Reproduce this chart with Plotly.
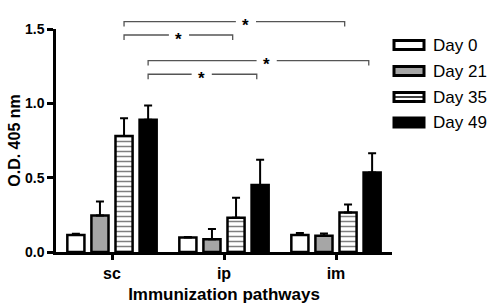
import plotly.graph_objects as go

categories = ["sc", "ip", "im"]
days = ["Day 0", "Day 21", "Day 35", "Day 49"]
day0 = [0.115, 0.097, 0.115]
day0_err = [0.008, 0.004, 0.012]
day21 = [0.245, 0.085, 0.11]
day21_err = [0.095, 0.07, 0.014]
day35 = [0.78, 0.23, 0.265]
day35_err = [0.12, 0.135, 0.055]
day49 = [0.89, 0.45, 0.535]
day49_err = [0.095, 0.17, 0.13]
yticks = [0.0, 0.5, 1.0, 1.5]

# significance brackets: (left category, right category, bar slot, paper y, star x)
brackets = [(0, 2, 2, 1.033, 1.196), (0, 1, 2, 0.973, 0.598),
            (0, 2, 3, 0.858, 1.381), (0, 1, 3, 0.797, 0.801)]

FONT = "Liberation Sans, Arial, sans-serif"
series = [day0, day21, day35, day49]
errs = [day0_err, day21_err, day35_err, day49_err]
fills = ["white", "#a6a6a6", "white", "black"]

fig = go.Figure()
for i, (name, vals, er, fc) in enumerate(zip(days, series, errs, fills)):
    marker = dict(color=fc, line=dict(color="black", width=2.5))
    if i == 2:
        marker["pattern"] = dict(shape="-", fgcolor="black", bgcolor="white", size=5, solidity=0.3)
    fig.add_trace(go.Bar(
        x=categories, y=vals, name=name, marker=marker, showlegend=False,
        error_y=dict(type="data", array=er, arrayminus=[0] * len(er), symmetric=False,
                     color="black", thickness=2, width=4),
    ))

bargap = 0.14
bargroupgap = 0.29
slot = (1 - bargap) / 4
offsets = [-(1 - bargap) / 2 + slot * (k + 0.5) for k in range(4)]

shapes = []
annotations = []
tick = 0.022
for (a, b, s, py, sx) in brackets:
    x0 = a + offsets[s]
    x1 = b + offsets[s] - 0.03
    gap = 0.09
    line = dict(color="#555555", width=1.3)
    shapes.append(dict(type="path", xref="x", yref="paper",
                       path=f"M {x0},{py - tick} L {x0},{py} L {sx - gap},{py}", line=line))
    shapes.append(dict(type="path", xref="x", yref="paper",
                       path=f"M {sx + gap},{py} L {x1},{py} L {x1},{py - tick}", line=line))
    annotations.append(dict(x=sx, y=py, xref="x", yref="paper", text="<b>*</b>", showarrow=False,
                            xanchor="center", yanchor="middle",
                            font=dict(family=FONT, size=17, color="black"), yshift=-4))

# manual legend
def px2paper(px, py):
    return (px - 56) / 336, (252 - py) / 223

legend_rows = [45, 71, 97, 122.5]
for name, fc, ry, k in zip(days, fills, legend_rows, range(4)):
    x0, y0 = px2paper(394, ry - 4.5)
    x1, y1 = px2paper(424, ry + 4.5)
    shapes.append(dict(type="rect", xref="paper", yref="paper", x0=x0, x1=x1, y0=y1, y1=y0,
                       fillcolor=fc, line=dict(color="black", width=3)))
    if k == 2:
        shapes.append(dict(type="line", xref="paper", yref="paper", x0=x0, x1=x1,
                           y0=(y0 + y1) / 2, y1=(y0 + y1) / 2, line=dict(color="black", width=1.5)))
    tx, ty = px2paper(431, ry)
    annotations.append(dict(x=tx, y=ty, xref="paper", yref="paper", text=name, showarrow=False,
                            xanchor="left", yanchor="middle",
                            font=dict(family=FONT, size=17, color="black")))

fig.update_layout(
    width=490, height=308,
    margin=dict(l=56, r=98, t=29, b=56, autoexpand=False),
    paper_bgcolor="white", plot_bgcolor="white",
    barmode="group", bargap=bargap, bargroupgap=bargroupgap,
    font=dict(family=FONT, color="black"),
    shapes=shapes, annotations=annotations,
    xaxis=dict(
        showline=True, linecolor="black", linewidth=2.5, ticks="outside", ticklen=5,
        tickwidth=2.5, tickcolor="black", range=[-0.5, 2.5], showgrid=False, zeroline=False,
        automargin=False,
        tickfont=dict(family=FONT, size=16, weight="bold"),
        title=dict(text="Immunization pathways", font=dict(family=FONT, size=17, weight="bold"), standoff=8),
    ),
    yaxis=dict(
        showline=True, linecolor="black", linewidth=2.5, ticks="outside", ticklen=6,
        tickwidth=2.5, tickcolor="black", range=[0, 1.5], tickvals=yticks, tickformat=".1f",
        showgrid=False, zeroline=False, automargin=False,
        tickfont=dict(family=FONT, size=14, weight="bold"),
        title=dict(text="O.D. 405 nm", font=dict(family=FONT, size=16, weight="bold"), standoff=1),
    ),
)

fig.write_html("out.html", config={"displayModeBar": False},
               post_script="document.body.style.margin='0';document.body.style.overflow='hidden';")
